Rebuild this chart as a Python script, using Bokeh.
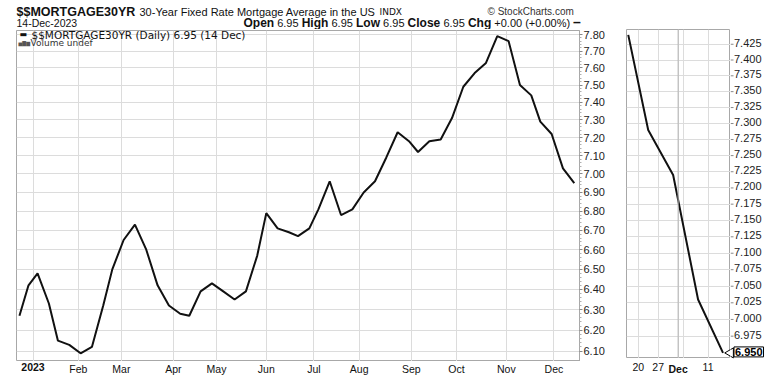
import math
import numpy as np
from bokeh.plotting import figure
from bokeh.layouts import row, column
from bokeh.models import FixedTicker, Range1d, Label, PrintfTickFormatter, Span
from bokeh.core.properties import value
from bokeh.embed import file_html
from bokeh.resources import INLINE

# ---------------- data ----------------
dates = ["2022-12-22", "2022-12-29", "2023-01-05", "2023-01-12", "2023-01-19", "2023-01-26",
         "2023-02-02", "2023-02-09", "2023-02-16", "2023-02-23", "2023-03-02", "2023-03-09",
         "2023-03-16", "2023-03-23", "2023-03-30", "2023-04-06", "2023-04-13", "2023-04-20",
         "2023-04-27", "2023-05-04", "2023-05-11", "2023-05-18", "2023-05-25", "2023-06-01",
         "2023-06-08", "2023-06-15", "2023-06-22", "2023-06-29", "2023-07-06", "2023-07-13",
         "2023-07-20", "2023-07-27", "2023-08-03", "2023-08-10", "2023-08-17", "2023-08-24",
         "2023-08-31", "2023-09-07", "2023-09-14", "2023-09-21", "2023-09-28", "2023-10-05",
         "2023-10-12", "2023-10-19", "2023-10-26", "2023-11-02", "2023-11-09", "2023-11-16",
         "2023-11-22", "2023-11-30", "2023-12-07", "2023-12-14"]
rates = [6.27, 6.42, 6.48, 6.33, 6.15, 6.13,
         6.09, 6.12, 6.32, 6.50, 6.65, 6.73,
         6.60, 6.42, 6.32, 6.28, 6.27, 6.39,
         6.43, 6.39, 6.35, 6.39, 6.57, 6.79,
         6.71, 6.69, 6.67, 6.71, 6.81, 6.96,
         6.78, 6.81, 6.90, 6.96, 7.09, 7.23,
         7.18, 7.12, 7.18, 7.19, 7.31, 7.49,
         7.57, 7.63, 7.79, 7.76, 7.50, 7.44,
         7.29, 7.22, 7.03, 6.95]
zoom_count = 5  # last weekly points shown in the right-hand panel

market_holidays = ["2022-12-26", "2023-01-02", "2023-01-16", "2023-02-20", "2023-04-07",
                   "2023-05-29", "2023-06-19", "2023-07-04", "2023-09-04", "2023-11-23",
                   "2023-12-25"]

month_tick_dates = ["2023-01-03", "2023-02-01", "2023-03-01", "2023-04-03", "2023-05-01",
                    "2023-06-01", "2023-07-03", "2023-08-01", "2023-09-01", "2023-10-02",
                    "2023-11-01", "2023-12-01"]
month_tick_labels = ["2023", "Feb", "Mar", "Apr", "May", "Jun", "Jul", "Aug", "Sep", "Oct",
                     "Nov", "Dec"]
main_y_ticks = [6.10, 6.20, 6.30, 6.40, 6.50, 6.60, 6.70, 6.80, 6.90,
                7.00, 7.10, 7.20, 7.30, 7.40, 7.50, 7.60, 7.70, 7.80]

zoom_tick_dates = ["2023-11-20", "2023-11-27", "2023-12-01", "2023-12-11"]
zoom_tick_labels = ["20", "27", "Dec", "11"]
zoom_grid_dates = ["2023-11-20", "2023-11-27", "2023-12-01", "2023-12-04", "2023-12-11"]
zoom_y_ticks = [6.975, 7.000, 7.025, 7.050, 7.075, 7.100, 7.125, 7.150, 7.175, 7.200,
                7.225, 7.250, 7.275, 7.300, 7.325, 7.350, 7.375, 7.400, 7.425]

symbol = "$$MORTGAGE30YR"
description = "30-Year Fixed Rate Mortgage Average in the US"
exchange = "INDX"
as_of = "14-Dec-2023"
legend_date = "14 Dec"
open_v, high_v, low_v, close_v, chg_v, chg_pct = 6.95, 6.95, 6.95, 6.95, 0.00, 0.00


def tidx(d):
    """trading-day index relative to the first data date"""
    return int(np.busday_count(dates[0], d, holidays=market_holidays))


xs = [tidx(d) for d in dates]
FONT = "Liberation Sans"
GRID = "#dcdcdc"
FRAME = "#a8a8a8"
TXT = "#111111"

# layout sizes (pixels)
TOTAL_W, TOTAL_H = 770, 376
HDR_H = 29
P1_W, P1_H = 620, 332        # frame 16..579 x 30..361
P2_W, P2_H = 110, 329        # frame 626..730 x 29..358
R2_W = TOTAL_W - P1_W - P2_W


def bare(width, height, **kw):
    f = figure(width=width, height=height, output_backend="svg", toolbar_location=None,
               tools="", title=None, x_axis_location=None, y_axis_location=None,
               min_border_left=0, min_border_right=0, min_border_top=0, min_border_bottom=0,
               **kw)
    f.outline_line_color = None
    f.xgrid.visible = False
    f.ygrid.visible = False
    return f


def txt(f, x, y, s, size, bold=False, font=FONT, color=TXT, align="left", baseline="alphabetic"):
    f.text(x=[x], y=[y], text=[s], text_font=value(font), text_font_size=value(size),
           text_font_style="bold" if bold else "normal", text_color=color,
           text_align=align, text_baseline=baseline)


# ---------------- header ----------------
hdr = bare(TOTAL_W, HDR_H, x_range=Range1d(0, TOTAL_W), y_range=Range1d(HDR_H, 0))
r1, r2y = 11, 22
txt(hdr, 16, r1, symbol, "12.5px", bold=True)
txt(hdr, 139, r1, description, "11px")
txt(hdr, 379, r1, exchange, "9px", font="DejaVu Sans")
txt(hdr, 487, r1, "\u00a9 StockCharts.com", "10px", color="#333333")
txt(hdr, 16, r2y, as_of, "10.5px")
row2 = [("Open", True, 243), (f"{open_v:.2f}", False, 276.7),
        ("High", True, 301.2), (f"{high_v:.2f}", False, 331),
        ("Low", True, 355.5), (f"{low_v:.2f}", False, 382.6),
        ("Close", True, 407.1), (f"{close_v:.2f}", False, 442.9),
        ("Chg", True, 467.4), (f"+{chg_v:.2f} (+{chg_pct:.2f}%)", False, 493.8)]
for s, b, x in row2:
    txt(hdr, x, r2y, s, "12px" if b else "11px", bold=b)
txt(hdr, 572.5, r2y - 0.5, "\u2013", "14px", bold=True)

# ---------------- main panel ----------------
y0, y1 = 6.0514, 7.8243
p1 = figure(width=P1_W, height=P1_H, output_backend="svg", toolbar_location=None, tools="",
            title=None, x_range=Range1d(xs[0] - 1.3, xs[-1] + 2.3), y_range=Range1d(y0, y1),
            y_axis_type="log", y_axis_location="right", x_axis_location=None,
            min_border_left=16, min_border_right=41, min_border_top=1, min_border_bottom=0)
p1.outline_line_color = FRAME
mticks = [tidx(d) for d in month_tick_dates]
p1.xgrid.ticker = FixedTicker(ticks=mticks)
p1.xgrid.grid_line_color = GRID
p1.ygrid.ticker = FixedTicker(ticks=main_y_ticks)
p1.ygrid.grid_line_color = GRID
minor = [round(t + k * 0.02, 3) for t in main_y_ticks[:-1] for k in range(1, 5)]
ax = p1.yaxis[0]
ax.ticker = FixedTicker(ticks=main_y_ticks, minor_ticks=minor)
ax.formatter = PrintfTickFormatter(format="%.2f")
ax.axis_line_color = FRAME
ax.major_tick_out = 3
ax.major_tick_in = 0
ax.minor_tick_out = 2
ax.minor_tick_in = 0
ax.major_tick_line_color = "#888888"
ax.minor_tick_line_color = "#b0b0b0"
ax.major_label_standoff = 1
ax.major_label_text_font = FONT
ax.major_label_text_font_size = "11px"
ax.major_label_text_color = "#222222"
ax.major_label_text_baseline = "middle"
p1.line(xs, rates, line_color="#111111", line_width=2)

# in-plot legend
p1.add_layout(Label(x=3, y=y1, x_units="screen", y_offset=-4, text="\u25ac", text_font="DejaVu Sans",
                    text_font_size="8px", text_baseline="middle", text_color=TXT))
p1.add_layout(Label(x=15, y=y1, x_units="screen", y_offset=-4,
                    text=f"{symbol} (Daily) {close_v:.2f} ({legend_date})",
                    text_font="DejaVu Sans", text_font_size="10.5px", text_baseline="middle",
                    text_color=TXT))
p1.add_layout(Label(x=2, y=y1, x_units="screen", y_offset=-12.5, text="\u2585\u2587\u2586",
                    text_font="DejaVu Sans", text_font_size="5px", text_baseline="middle",
                    text_color="#555555"))
p1.add_layout(Label(x=14, y=y1, x_units="screen", y_offset=-12.5, text="Volume undef",
                    text_font="DejaVu Sans", text_font_size="9px", text_baseline="middle",
                    text_color="#333333"))

# month label strip
S1_H = TOTAL_H - HDR_H - P1_H
s1 = bare(P1_W, S1_H, x_range=p1.x_range, y_range=Range1d(S1_H, 0))
s1.min_border_left = 16
s1.min_border_right = 41
s1.text(x=mticks[1:], y=[1] * (len(mticks) - 1), text=month_tick_labels[1:],
        text_font=value(FONT), text_font_size=value("10.5px"), text_color=TXT,
        text_align="center", text_baseline="top")
txt(s1, mticks[0], 1, month_tick_labels[0], "10.5px", bold=True, align="center",
    baseline="top")

# ---------------- zoom panel ----------------
zx = xs[-zoom_count:]
zy = rates[-zoom_count:]
z0, z1 = 6.9417, 7.4485
p2 = figure(width=P2_W, height=P2_H, output_backend="svg", toolbar_location=None, tools="",
            title=None, x_range=Range1d(zx[0] - 0.35, zx[-1] + 1.5), y_range=Range1d(z0, z1),
            y_axis_type="log", x_axis_location=None, y_axis_location=None,
            min_border_left=6, min_border_right=0, min_border_top=0, min_border_bottom=0)
p2.outline_line_color = FRAME
zt = [tidx(d) for d in zoom_tick_dates]
p2.xgrid.ticker = FixedTicker(ticks=[tidx(d) for d in zoom_grid_dates])
p2.xgrid.grid_line_color = GRID
p2.ygrid.ticker = FixedTicker(ticks=zoom_y_ticks)
p2.ygrid.grid_line_color = GRID
dec_t = zt[zoom_tick_labels.index("Dec")]
p2.add_layout(Span(location=dec_t, dimension="height", line_color="#b4b4b4", line_width=1))
p2.line(zx, zy, line_color="#111111", line_width=2)
# left half of the last-value pointer (continues in the value strip)
p2.scatter(x=[p2.x_range.end], y=[close_v], marker="triangle", angle=math.pi / 2, size=10,
           fill_color="white", line_color="black", line_width=1)

S2_H = TOTAL_H - HDR_H - P2_H
s2 = bare(P2_W, S2_H, x_range=p2.x_range, y_range=Range1d(S2_H, 0))
s2.min_border_left = 6
norm = [(t, l) for t, l in zip(zt, zoom_tick_labels) if l != "Dec"]
s2.text(x=[t for t, _ in norm], y=[4] * len(norm), text=[l for _, l in norm],
        text_font=value(FONT), text_font_size=value("10.5px"), text_color=TXT,
        text_align="center", text_baseline="top")
txt(s2, dec_t, 4, "Dec", "10.5px", bold=True, align="center", baseline="top")

# right-hand value axis of the zoom panel (extends over the label strip)
per_px = math.log(z1 / z0) / P2_H
z0_ext = z0 * math.exp(-S2_H * per_px)
r2 = bare(R2_W, TOTAL_H - HDR_H, x_range=Range1d(0, R2_W), y_range=Range1d(z0_ext, z1),
          y_axis_type="log")
r2.segment(x0=[0] * len(zoom_y_ticks), y0=zoom_y_ticks, x1=[3] * len(zoom_y_ticks),
           y1=zoom_y_ticks, line_color="#888888", line_width=1)
r2.text(x=[3.5] * len(zoom_y_ticks), y=zoom_y_ticks, text=[f"{t:.3f}" for t in zoom_y_ticks],
        text_font=value(FONT), text_font_size=value("11px"), text_color="#222222",
        text_baseline="middle", y_offset=-1.5)
r2.scatter(x=[0], y=[close_v], marker="triangle", angle=math.pi / 2, size=10,
           fill_color="white", line_color="black", line_width=1)
r2.text(x=[3.5], y=[close_v], text=[f"{close_v:.3f}"], text_font=value(FONT),
        text_font_size=value("11px"), text_font_style="bold", text_color="black",
        text_baseline="middle", y_offset=-1, border_line_color="black", border_line_width=1,
        background_fill_color="white", padding=1)

layout = column(hdr, row(column(p1, s1), column(p2, s2), r2))
open("out.html", "w").write(file_html(layout, INLINE))
